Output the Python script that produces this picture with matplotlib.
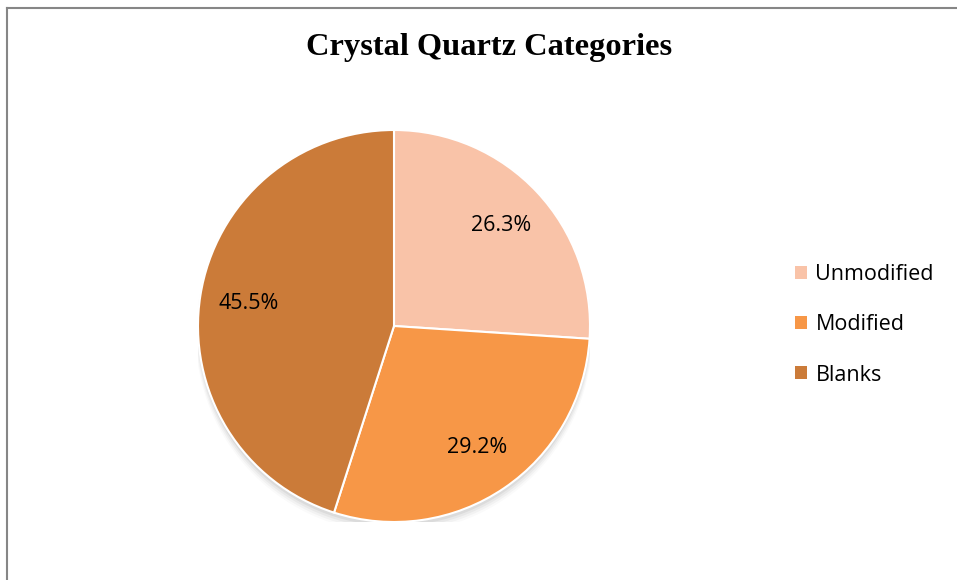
import matplotlib
matplotlib.use("Agg")
import matplotlib.pyplot as plt
from matplotlib.lines import Line2D
from matplotlib.patches import Circle

categories = ["Unmodified", "Modified", "Blanks"]
values = [26.3, 29.2, 45.5]
colors = ["#F9C3A8", "#F79747", "#CB7B39"]
title = "Crystal Quartz Categories"

W, H = 957, 580
fig = plt.figure(figsize=(W / 100, H / 100), dpi=100)

# outer frame (left and top visible)
fig.add_artist(Line2D([7.5 / W, 7.5 / W], [0, 1 - 7.5 / H], color="#868686", lw=1.5))
fig.add_artist(Line2D([7.5 / W, 1], [1 - 7.5 / H, 1 - 7.5 / H], color="#868686", lw=1.5))

cx, cy, r = 394, 326, 196
ax = fig.add_axes([(cx - r) / W, (H - cy - r) / H, 2 * r / W, 2 * r / H])

# soft shadow
for i, a in enumerate([0.05, 0.04, 0.03, 0.02]):
    ax.add_patch(Circle((0.0, -0.02 - 0.008 * i), 1.0 + 0.004 * i, color="black",
                        alpha=a, lw=0, zorder=0))

total = sum(values)
wedges, texts, autotexts = ax.pie(
    values, colors=colors, startangle=90, counterclock=False,
    autopct=lambda p: f"{p * total / 100:.1f}%", pctdistance=0.75, radius=1.0,
    wedgeprops=dict(edgecolor="white", linewidth=1.5),
    textprops=dict(fontsize=15.5, family="Open Sans", color="black"),
)
for w in wedges:
    w.set_zorder(2)
ax.set_xlim(-1.0, 1.0)
ax.set_ylim(-1.0, 1.0)
ax.set_aspect("equal")
ax.axis("off")

fig.text(489 / W, 1 - 48 / H, title, ha="center", va="center",
         fontsize=23.3, fontweight="bold", family="Liberation Serif")

leg = fig.legend(wedges, categories, loc="center left",
                 bbox_to_anchor=(795 / W, 1 - 325 / H), frameon=False,
                 prop=dict(family="Open Sans", size=15.5),
                 handlelength=0.55, handleheight=0.55, handletextpad=0.4,
                 labelspacing=1.35, borderaxespad=0, borderpad=0)
for h in leg.legend_handles:
    h.set_edgecolor("none")

fig.savefig("out.png", dpi=100, facecolor="white")
